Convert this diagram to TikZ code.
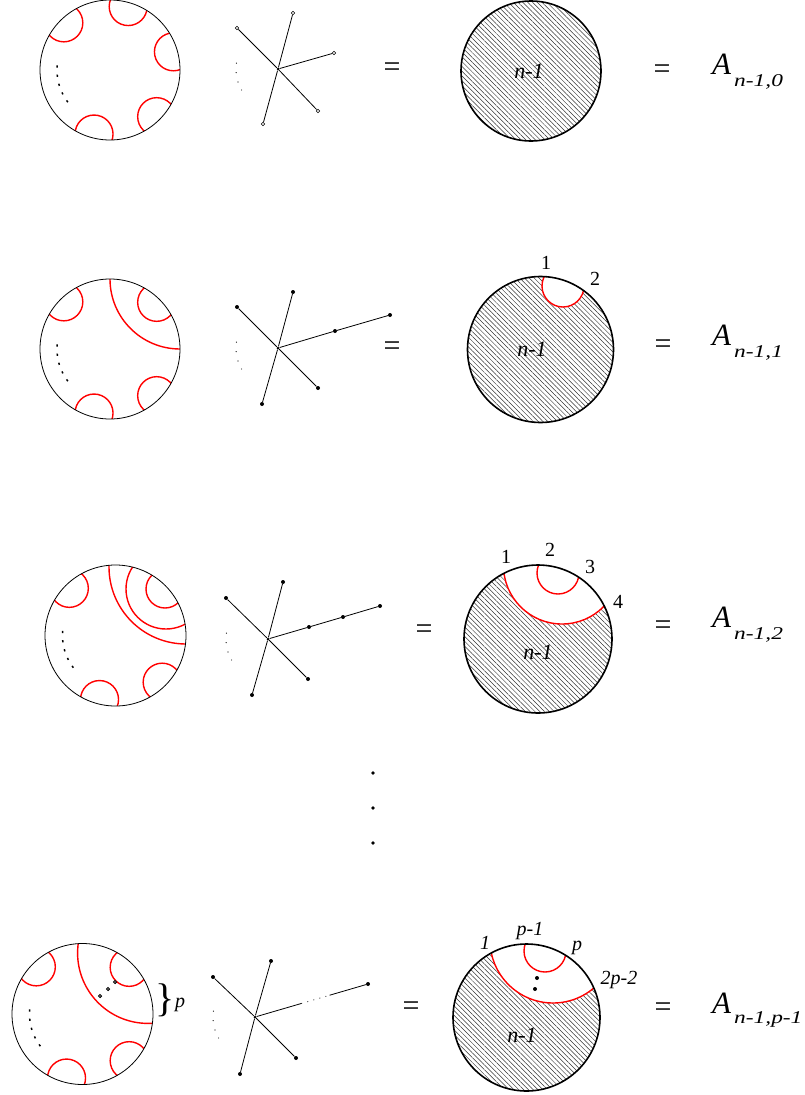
\documentclass[tikz,border=0pt]{standalone}
\usepackage{fontspec}
\setmainfont{Liberation Serif}
\usetikzlibrary{patterns.meta,calc}
\tikzset{
  outline/.style={draw=black, line width=0.8pt},
  redarc/.style={draw=red, line width=1.4pt},
  hatchfill/.style={pattern={Lines[angle=-45,distance=3.4pt,line width=0.5pt]}, pattern color=black!80},
  boldoutline/.style={draw=black, line width=1.6pt},
  leaf/.style={circle, fill=black, inner sep=0pt, minimum size=4pt},
  openleaf/.style={circle, draw=black, fill=white, line width=0.6pt, inner sep=0pt, minimum size=3.6pt},
  hub/.style={circle, fill=black, inner sep=0pt, minimum size=3pt},
  edge/.style={draw=black, line width=0.8pt},
  eqsign/.style={font=\fontsize{30}{36}\selectfont, inner sep=0pt},
  bigA/.style={anchor=base west, font=\fontsize{31}{36}\selectfont\itshape, inner sep=0pt},
  subA/.style={anchor=base west, font=\fontsize{18}{22}\selectfont\itshape, inner sep=0pt},
  inlabel/.style={font=\fontsize{22}{26}\selectfont\itshape, inner sep=0pt},
  numlabel/.style={font=\fontsize{20}{24}\selectfont, inner sep=0pt},
  itlabel/.style={font=\fontsize{20}{24}\selectfont\itshape, inner sep=0pt},
  tinydot/.style={fill=black},
}
\newcommand\redcap[2]{\draw[redarc] (#1) ++(#2:66) circle[radius=19pt];}
\newcommand\capdots[1]{\foreach \a in {185,175,165,155,145}{\draw[line width=1.5pt] (#1) ++(\a:53) -- ++(\a-90:2.2);}}
\newcommand\treedots[1]{\foreach \a in {188,175,162,150}{\fill[tinydot] (#1) ++(\a:42) circle[radius=0.6pt];}}
\newcommand\sublab[1]{\scalebox{1.3}[1]{#1}}
\begin{document}
\begin{tikzpicture}[x=1pt,y=-1pt]
\useasboundingbox (0,0) rectangle (805,1095);

% ================= Row 1 =================
\coordinate (L1) at (110,70);
\begin{scope}
  \clip (L1) circle[radius=70pt];
  \redcap{L1}{-134.4}
  \redcap{L1}{-74}
  \redcap{L1}{-16}
  \redcap{L1}{45}
  \redcap{L1}{104}
\end{scope}
\draw[outline] (L1) circle[radius=70pt];
\capdots{L1}

\node[hub] (T1) at (278,69) {};
\node[openleaf] (T1a) at (293,13) {};
\node[openleaf] (T1b) at (237,28) {};
\node[openleaf] (T1c) at (334,53) {};
\node[openleaf] (T1d) at (318,111) {};
\node[openleaf] (T1e) at (263,124) {};
\draw[edge] (T1) -- (T1a); \draw[edge] (T1) -- (T1b); \draw[edge] (T1) -- (T1c);
\draw[edge] (T1) -- (T1d); \draw[edge] (T1) -- (T1e);
\treedots{T1}

\node[eqsign] (E1a) at (392,70) {=};
\coordinate (H1) at (531,71);
\fill[hatchfill] (H1) circle[radius=70pt];
\draw[boldoutline] (H1) circle[radius=70pt];
\node[inlabel] (N1) at (529,71) {n-1};
\node[eqsign] (E1b) at (662,72) {=};
\node[bigA] (A1) at (712,74) {A};
\node[subA] (S1) at (734,86) {\sublab{n-1,0}};

% ================= Row 2 =================
\coordinate (L2) at (110,349);
\begin{scope}
  \clip (L2) circle[radius=70pt];
  \redcap{L2}{-134.4}
  \redcap{L2}{-45}
  \redcap{L2}{45}
  \redcap{L2}{104}
  \draw[redarc] (180,279) circle[radius=70pt];
\end{scope}
\draw[outline] (L2) circle[radius=70pt];
\capdots{L2}

\node[hub] (T2) at (278,348) {};
\node[leaf] (T2a) at (293,292) {};
\node[leaf] (T2b) at (237,307) {};
\node[leaf] (T2m) at (335,331) {};
\node[leaf] (T2c) at (390,315) {};
\node[leaf] (T2d) at (318,388) {};
\node[leaf] (T2e) at (262,404) {};
\draw[edge] (T2) -- (T2a); \draw[edge] (T2) -- (T2b); \draw[edge] (T2) -- (T2m); \draw[edge] (T2m) -- (T2c);
\draw[edge] (T2) -- (T2d); \draw[edge] (T2) -- (T2e);
\treedots{T2}

\node[eqsign] (E2a) at (392,349) {=};
\coordinate (H2) at (540.5,349.5);
\begin{scope}
  \clip (H2) circle[radius=73pt];
  \fill[hatchfill] (H2) circle[radius=73pt];
  \fill[white] (563,286) circle[radius=21pt];
  \draw[redarc] (563,286) circle[radius=21pt];
\end{scope}
\draw[boldoutline] (H2) circle[radius=73pt];
\node[inlabel] (N2) at (532,349) {n-1};
\node[numlabel] (P21) at (546,263) {1};
\node[numlabel] (P22) at (595,279) {2};
\node[eqsign] (E2b) at (663,347) {=};
\node[bigA] (A2) at (712,345) {A};
\node[subA] (S2) at (734,357) {\sublab{n-1,1}};

% ================= Row 3 =================
\coordinate (L3) at (115.5,635.5);
\begin{scope}
  \clip (L3) circle[radius=70.5pt];
  \redcap{L3}{-134.4}
  \redcap{L3}{45}
  \redcap{L3}{104}
  \draw[redarc] (165,589) circle[radius=19pt];
  \draw[redarc] (166,589) circle[radius=40pt];
  \draw[redarc] (186,567) circle[radius=77pt];
\end{scope}
\draw[outline] (L3) circle[radius=70.5pt];
\capdots{L3}

\node[hub] (T3) at (268,639) {};
\node[leaf] (T3a) at (283,582) {};
\node[leaf] (T3b) at (226,598) {};
\node[leaf] (T3m) at (309,627) {};
\node[leaf] (T3n) at (343,617) {};
\node[leaf] (T3c) at (380,606) {};
\node[leaf] (T3d) at (308,679) {};
\node[leaf] (T3e) at (252,695) {};
\draw[edge] (T3) -- (T3a); \draw[edge] (T3) -- (T3b); \draw[edge] (T3) -- (T3m); \draw[edge] (T3m) -- (T3n); \draw[edge] (T3n) -- (T3c);
\draw[edge] (T3) -- (T3d); \draw[edge] (T3) -- (T3e);
\treedots{T3}

\node[eqsign] (E3a) at (424,632) {=};
\coordinate (H3) at (538,639);
\begin{scope}
  \clip (H3) circle[radius=74pt];
  \fill[hatchfill] (H3) circle[radius=74pt];
  \fill[white] (562,565.5) circle[radius=58.5pt];
  \draw[redarc] (562,565.5) circle[radius=58.5pt];
  \draw[redarc] (558,573) circle[radius=21pt];
\end{scope}
\draw[boldoutline] (H3) circle[radius=74pt];
\node[inlabel] (N3) at (538,652) {n-1};
\node[numlabel] (P31) at (506,557) {1};
\node[numlabel] (P32) at (550,550) {2};
\node[numlabel] (P33) at (590,567) {3};
\node[numlabel] (P34) at (618,602) {4};
\node[eqsign] (E3b) at (663,628) {=};
\node[bigA] (A3) at (712,627) {A};
\node[subA] (S3) at (734,639) {\sublab{n-1,2}};

% ================= vertical dots =================
\fill (373,773) circle[radius=1.8pt];
\fill (373,808) circle[radius=1.8pt];
\fill (373,843) circle[radius=1.8pt];

% ================= Row 4 =================
\coordinate (L4) at (82.5,1014);
\begin{scope}
  \clip (L4) circle[radius=70.5pt];
  \redcap{L4}{-134.4}
  \redcap{L4}{-45}
  \redcap{L4}{45}
  \redcap{L4}{104}
  \draw[redarc] (148,953) circle[radius=70.4pt];
\end{scope}
\draw[outline] (L4) circle[radius=70.5pt];
\capdots{L4}
\foreach \p in {(100,996),(108,989),(115,982)}{\draw[line width=0.9pt, fill=white] \p circle[radius=1.6pt];}
\node[font=\fontsize{40}{44}\selectfont, inner sep=0pt] (BR) at (165,1000) {\}};
\node[itlabel, anchor=base west] (PP) at (175,1007) {p};

\node[hub] (T4) at (255,1017) {};
\node[leaf] (T4a) at (271,961) {};
\node[leaf] (T4b) at (213,977) {};
\node[leaf] (T4c) at (368,984) {};
\node[leaf] (T4d) at (296,1058) {};
\node[leaf] (T4e) at (240,1074) {};
\draw[edge] (T4) -- (T4a); \draw[edge] (T4) -- (T4b);
\draw[edge] (T4) -- (T4d); \draw[edge] (T4) -- (T4e);
\coordinate (T4s) at ($(T4)!0.41!(T4c)$);
\coordinate (T4t) at ($(T4)!0.66!(T4c)$);
\draw[edge] (T4) -- (T4s);
\draw[edge, dash pattern=on 0.8pt off 5.5pt] (T4s) -- (T4t);
\draw[edge] (T4t) -- (T4c);
\treedots{T4}

\node[eqsign] (E4a) at (411,1009) {=};
\coordinate (H4) at (526.5,1017.5);
\begin{scope}
  \clip (H4) circle[radius=73.5pt];
  \fill[hatchfill] (H4) circle[radius=73.5pt];
  \fill[white] (553,940) circle[radius=63pt];
  \draw[redarc] (553,940) circle[radius=63pt];
  \draw[redarc] (545,951) circle[radius=21pt];
\end{scope}
\draw[boldoutline] (H4) circle[radius=73.5pt];
\fill (537,978) circle[radius=2pt];
\fill (535,989) circle[radius=2pt];
\node[inlabel] (N4) at (522,1035) {n-1};
\node[itlabel] (P41) at (485,943) {1};
\node[itlabel] (P42) at (530,931) {p-1};
\node[itlabel] (P43) at (577,948) {p};
\node[itlabel] (P44) at (619,980) {2p-2};
\node[eqsign] (E4b) at (663,1010) {=};
\node[bigA] (A4) at (712,1013) {A};
\node[subA] (S4) at (734,1023) {\sublab{n-1,p-1}};
\end{tikzpicture}
\end{document}
